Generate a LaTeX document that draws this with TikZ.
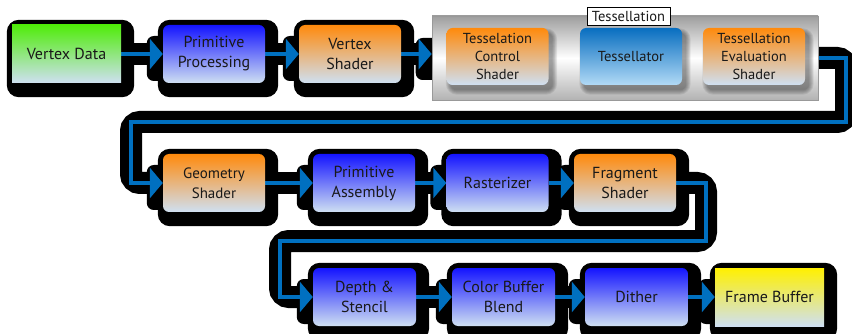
\documentclass[tikz,border=0pt]{standalone}
\usepackage{fontspec}
\setmainfont{PT Sans}
\usetikzlibrary{arrows.meta,calc}

\definecolor{flowblue}{RGB}{0,112,192}
\definecolor{paleblue}{RGB}{207,224,242}
\definecolor{deepblue}{RGB}{20,20,255}
\definecolor{shaderorange}{RGB}{255,138,12}
\definecolor{datagreen}{RGB}{80,236,10}
\definecolor{bufferyellow}{RGB}{255,240,0}
\definecolor{tessblue}{RGB}{8,110,192}
\definecolor{tesslight}{RGB}{178,218,246}
\definecolor{inktext}{RGB}{25,25,25}

\pgfdeclarelayer{bg}
\pgfdeclarelayer{shade}
\pgfdeclarelayer{links}
\pgfdeclarelayer{frame}
\pgfdeclarelayer{soft}
\pgfsetlayers{bg,shade,links,frame,soft,main}

\tikzset{
  stage/.style={rectangle, rounded corners=6pt, inner sep=0pt,
    minimum width=102pt, minimum height=58pt, align=center,
    text=inktext, font=\fontsize{16}{20}\selectfont},
  bluestage/.style={stage, top color=deepblue, bottom color=paleblue},
  orangestage/.style={stage, top color=shaderorange, bottom color=paleblue},
  greenstage/.style={stage, sharp corners, minimum width=109pt,
    top color=datagreen, bottom color=paleblue},
  yellowstage/.style={stage, sharp corners, minimum width=109pt,
    top color=bufferyellow, bottom color=paleblue},
  tessinner/.style={stage, minimum height=57pt,
    font=\fontsize{14.5}{18}\selectfont},
  tessorange/.style={tessinner, top color=shaderorange, bottom color=paleblue},
  tessmid/.style={tessinner, top color=tessblue, bottom color=tesslight},
  tessframe/.style={rectangle, inner sep=0pt, minimum width=386pt,
    minimum height=84pt, draw=black!40, line width=0.6pt,
    top color=black!38, bottom color=black!30, middle color=white},
  tesslabel/.style={rectangle, draw=black, line width=0.7pt, fill=white,
    inner sep=0pt, minimum width=83pt, minimum height=18pt,
    text=inktext, font=\fontsize{14.5}{16}\selectfont},
  flow/.style={draw=flowblue, line width=4.5pt,
    -{Triangle[length=13pt,width=30pt]}},
  band/.style={draw=black, line width=22pt, rounded corners=9pt,
    shorten <=-7pt},
  boxshadow/.style={fill=black, rounded corners=12pt},
  tipshadow/.style={fill=black, rounded corners=7pt},
  softlayer/.style={fill=black, opacity=0.07},
}

\begin{document}
\begin{tikzpicture}[x=1pt,y=-1pt]
\useasboundingbox (0,0) rectangle (852,334);
\begin{pgfonlayer}{bg}
  \fill[white] (0,0) rectangle (852,334);
\end{pgfonlayer}

% first row
\node[greenstage] (vd) at (66.5,54) {Vertex Data};
\node[bluestage] (pp) at (214,54) {Primitive\\Processing};
\node[orangestage] (vs) at (350,54) {Vertex\\Shader};

% tessellation group
\begin{pgfonlayer}{frame}
  \node[tessframe] (tess) at (625,58) {};
\end{pgfonlayer}
\node[tessorange] (tcs) at (497.5,56.5) {Tesselation\\Control\\Shader};
\node[tessmid] (tsr) at (631,56.5) {Tessellator};
\node[tessorange] (tes) at (754,56.5) {Tessellation\\Evaluation\\Shader};
\node[tesslabel] (tlab) at (628.5,16) {Tessellation};

% soft grey shadows of the three tessellation stages
\begin{pgfonlayer}{soft}
  \foreach \n in {tcs,tsr,tes}
    \foreach \k in {0,...,5}
      \fill[softlayer, rounded corners={6pt+\k pt}]
        ($(\n.north west)+({4-0.9*\k},{5-0.9*\k})$) rectangle
        ($(\n.south east)+({4+0.9*\k},{5+0.9*\k})$);
\end{pgfonlayer}

% second row
\node[orangestage, font=\fontsize{15}{20}\selectfont] (geo) at (214,183) {Geometry\\Shader};
\node[bluestage] (pa) at (364,183) {Primitive\\Assembly};
\node[bluestage] (ras) at (497.5,183) {Rasterizer};
\node[orangestage] (frag) at (625,183) {Fragment\\Shader};

% third row
\node[bluestage, minimum width=103pt] (ds) at (364.5,297) {Depth \&\\Stencil};
\node[bluestage, minimum width=103pt] (cb) at (503.5,297) {Color Buffer\\Blend};
\node[bluestage, minimum width=103pt] (di) at (636.5,297) {Dither};
\node[yellowstage] (fb) at (769.5,297) {Frame Buffer};

% bends of the two long runs
\coordinate (r1) at (846,122);
\coordinate (l1) at (131,122);
\coordinate (r2) at (706,241);
\coordinate (l2) at (280,241);

% heavy black drop shadows
\begin{pgfonlayer}{shade}
  \foreach \n in {vd,pp,vs,geo,pa,ras,frag,ds,cb,di,fb}
    \fill[boxshadow] ($(\n.north west)+(-5,-5)$) rectangle ($(\n.south east)+(13,14)$);
  \foreach \n in {pp,vs,geo,pa,ras,frag,ds,cb,di,fb}
    \fill[tipshadow] ($(\n.west)+(-16,-18)$) rectangle ($(\n.west)+(8,27)$);
  \fill[tipshadow] ($(vs.east -| tess.west)+(-16,-16)$) rectangle ($(vs.east -| tess.west)+(8,26)$);
  \begin{scope}[shift={(5,5)}]
    \draw[band] (vd.east) -- (pp.west);
    \draw[band] (pp.east) -- (vs.west);
    \draw[band] (vs.east) -- (vs.east -| tess.west);
    \draw[band] (tess.east) -| (r1) -- (l1) |- (geo.west);
    \draw[band] (geo.east) -- (pa.west);
    \draw[band] (pa.east) -- (ras.west);
    \draw[band] (ras.east) -- (frag.west);
    \draw[band] (frag.east) -| (r2) -- (l2) |- (ds.west);
    \draw[band] (ds.east) -- (cb.west);
    \draw[band] (cb.east) -- (di.west);
    \draw[band] (di.east) -- (fb.west);
  \end{scope}
\end{pgfonlayer}

% blue flow connectors
\begin{pgfonlayer}{links}
  \draw[flow] (vd.east) -- (pp.west);
  \draw[flow] (pp.east) -- (vs.west);
  \draw[flow] (vs.east) -- (vs.east -| tess.west);
  \draw[flow] (tess.east) -| (r1) -- (l1) |- (geo.west);
  \draw[flow] (geo.east) -- (pa.west);
  \draw[flow] (pa.east) -- (ras.west);
  \draw[flow] (ras.east) -- (frag.west);
  \draw[flow] (frag.east) -| (r2) -- (l2) |- (ds.west);
  \draw[flow] (ds.east) -- (cb.west);
  \draw[flow] (cb.east) -- (di.west);
  \draw[flow] (di.east) -- (fb.west);
\end{pgfonlayer}
\end{tikzpicture}
\end{document}
